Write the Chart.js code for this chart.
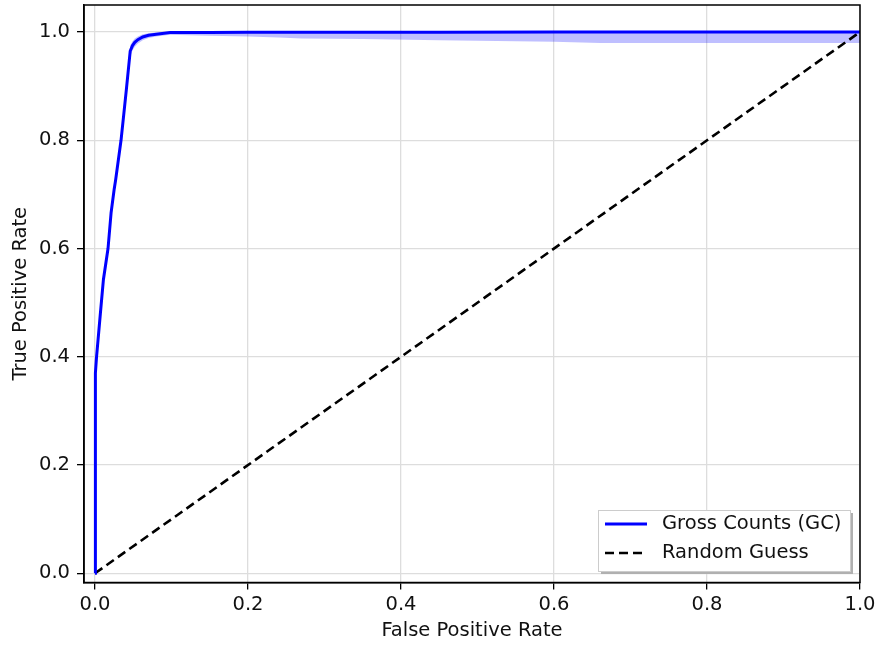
<!DOCTYPE html>
<html>
<head>
<meta charset="utf-8">
<script src="https://cdn.jsdelivr.net/npm/chart.js@4"></script>
<style>
  body { margin: 0; background: #fff; }
  #rocChart { display: block; }
</style>
</head>
<body>
<canvas id="rocChart" width="880" height="645"></canvas>
<script>
// ROC: false positive rate on x, true positive rate on y
const fpr = [0, 0, 0.001, 0.002, 0.007, 0.011, 0.017, 0.021, 0.025, 0.027, 0.034,
    0.037, 0.041, 0.046, 0.049, 0.052, 0.056, 0.0624, 0.07, 0.08, 0.098,
    0.15, 0.2, 0.24, 0.27, 0.35, 0.45, 0.6, 0.66, 0.8, 1.0];
const tprMean = [0, 0.33, 0.37, 0.40, 0.48, 0.543, 0.60, 0.666, 0.709, 0.727, 0.80,
    0.84, 0.894, 0.965, 0.975, 0.981, 0.986, 0.991, 0.994, 0.996, 0.999,
    0.999, 0.9995, 0.9995, 0.9995, 0.9997, 0.9998, 0.9999, 1.0, 1.0, 1.0];
// spread between folds (lower / upper edge of the shaded band)
const tprLow = [0, 0.32, 0.36, 0.39, 0.47, 0.533, 0.59, 0.656, 0.699, 0.717, 0.79,
    0.83, 0.884, 0.955, 0.966, 0.973, 0.979, 0.985, 0.989, 0.992, 0.995,
    0.993, 0.992, 0.990, 0.988, 0.987, 0.985, 0.982, 0.980, 0.980, 0.980];
const tprHigh = [0, 0.34, 0.38, 0.41, 0.49, 0.553, 0.61, 0.676, 0.719, 0.737, 0.81,
    0.85, 0.904, 0.975, 0.983, 0.988, 0.992, 0.996, 0.998, 0.999, 1.0,
    1.0, 1.0, 1.0, 1.0, 1.0, 1.0, 1.0, 1.0, 1.0, 1.0];
// chance diagonal
const guessX = [0, 1];
const guessY = [0, 1];

const axisTicks = [0, 0.2, 0.4, 0.6, 0.8, 1.0];
const seriesLabels = ['Gross Counts (GC)', 'Random Guess'];

function toPoints(xs, ys){
    return xs.map(function(x, i){ return {x: x, y: ys[i]}; });
}

// black frame round the plot area
const frameBox = {
    id: 'frameBox',
    afterDatasetsDraw(chart){
        const a = chart.chartArea, ctx = chart.ctx;
        ctx.save();
        ctx.strokeStyle = '#000';
        ctx.lineWidth = 1.5;
        ctx.strokeRect(a.left, a.top, a.right - a.left, a.bottom - a.top);
        ctx.restore();
    }
};

// legend box in the lower right corner, with a drop shadow
const boxLegend = {
    id: 'boxLegend',
    afterDraw(chart){
        const ctx = chart.ctx;
        const items = chart.data.datasets.filter(function(d){ return d.inLegend; });
        const x = 598, y = 510, w = 252, h = 61;
        ctx.save();
        ctx.fillStyle = '#b0b0b0';
        ctx.fillRect(x + 3, y + 3, w, h);
        ctx.fillStyle = '#fff';
        ctx.fillRect(x, y, w, h);
        ctx.strokeStyle = '#cccccc';
        ctx.lineWidth = 1;
        ctx.strokeRect(x + 0.5, y + 0.5, w, h);
        ctx.font = '19.5px "DejaVu Sans"';
        ctx.textBaseline = 'middle';
        items.forEach(function(d, i){
            const cy = y + 14 + i * 29;
            ctx.strokeStyle = d.borderColor;
            ctx.lineWidth = d.borderWidth;
            ctx.setLineDash(d.borderDash || []);
            ctx.beginPath();
            ctx.moveTo(x + 7, cy);
            ctx.lineTo(x + 49, cy);
            ctx.stroke();
            ctx.setLineDash([]);
            ctx.fillStyle = '#111';
            ctx.fillText(d.label, x + 64, cy);
        });
        ctx.restore();
    }
};

function setTicks(scale){
    scale.ticks = axisTicks.map(function(v){ return {value: v}; });
}

Chart.defaults.font.family = '"DejaVu Sans"';
Chart.defaults.color = '#111';

new Chart(document.getElementById('rocChart'), {
    type: 'line',
    data: {
        datasets: [{
            label: seriesLabels[0],
            inLegend: true,
            data: toPoints(fpr, tprMean),
            borderColor: '#0000ff',
            borderWidth: 3,
            pointRadius: 0,
            tension: 0,
            fill: false
        }, {
            label: seriesLabels[1],
            inLegend: true,
            data: toPoints(guessX, guessY),
            borderColor: '#000',
            borderWidth: 2.6,
            borderDash: [9, 5],
            pointRadius: 0,
            fill: false
        }, {
            label: 'upper',
            data: toPoints(fpr, tprHigh),
            borderWidth: 0,
            pointRadius: 0,
            tension: 0,
            backgroundColor: 'rgba(0, 0, 255, 0.25)',
            fill: '+1'
        }, {
            label: 'lower',
            data: toPoints(fpr, tprLow),
            borderWidth: 0,
            pointRadius: 0,
            tension: 0,
            fill: false
        }]
    },
    options: {
        responsive: false,
        animation: false,
        layout: { padding: { top: 5, right: 20 } },
        plugins: {
            legend: { display: false },
            tooltip: { enabled: false }
        },
        scales: {
            x: {
                type: 'linear',
                min: -0.0144,
                max: 1.0,
                afterBuildTicks: setTicks,
                afterFit: function(scale){
                    scale.height = 62.5;
                    scale.paddingLeft = 0;
                    scale.paddingRight = 0;
                },
                grid: { color: '#dddddd', lineWidth: 1.3, tickColor: '#000', tickLength: 7, tickWidth: 1.3 },
                border: { color: '#000', width: 1.5 },
                ticks: {
                    font: { size: 19.5 },
                    padding: 4,
                    maxRotation: 0,
                    callback: function(v){ return v.toFixed(1); }
                },
                title: { display: true, text: 'False Positive Rate', font: { size: 19.5 }, padding: { top: 0, bottom: 2 } }
            },
            y: {
                type: 'linear',
                min: -0.017,
                max: 1.05,
                afterBuildTicks: setTicks,
                afterFit: function(scale){
                    scale.width = 84;
                    scale.paddingTop = 0;
                    scale.paddingBottom = 0;
                },
                grid: { color: '#dddddd', lineWidth: 1.3, tickColor: '#000', tickLength: 7, tickWidth: 1.3 },
                border: { color: '#000', width: 1.5 },
                ticks: {
                    font: { size: 19.5 },
                    padding: 7,
                    callback: function(v){ return v.toFixed(1); }
                },
                title: { display: true, text: 'True Positive Rate', font: { size: 19.5 }, padding: { top: 9, bottom: 0 } }
            }
        }
    },
    plugins: [frameBox, boxLegend]
});
</script>
</body>
</html>
